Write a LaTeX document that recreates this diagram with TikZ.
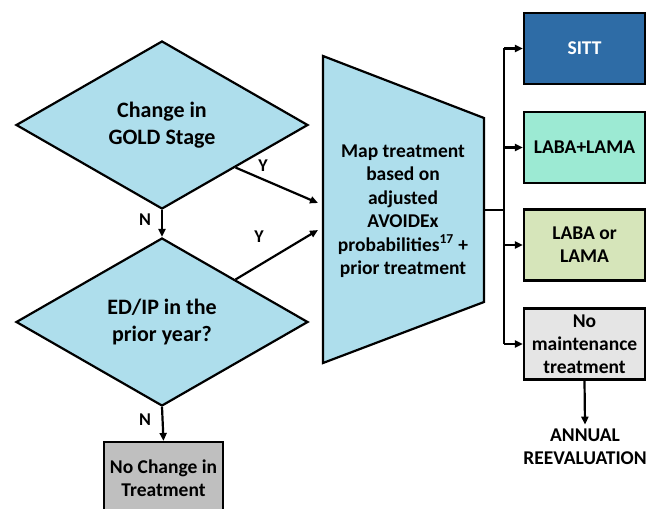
\documentclass[tikz,border=0pt]{standalone}
\usepackage{fontspec}
\setmainfont{Carlito}
\usetikzlibrary{shapes.geometric, arrows.meta, calc}

\definecolor{paleblue}{RGB}{174,222,236}
\definecolor{sittblue}{RGB}{46,108,166}
\definecolor{dualgreen}{RGB}{156,234,211}
\definecolor{monogreen}{RGB}{214,229,186}
\definecolor{nomaintgrey}{RGB}{229,229,229}
\definecolor{nochangegrey}{RGB}{191,191,191}

\begin{document}
\begin{tikzpicture}[%
        x = 1pt, y = -1pt,
        line width = 2.2pt,
        decision/.style = {%
            diamond, draw, fill = paleblue,
            minimum width = 292pt, minimum height = 168pt, inner sep = 0pt,
            align = center, font = \fontsize{22}{27}\selectfont\bfseries
        },
        choice/.style = {%
            rectangle, draw, minimum width = 121pt, minimum height = 71pt,
            inner sep = 2pt, align = center,
            font = \fontsize{19.5}{23}\selectfont\bfseries
        },
        answer/.style = {font = \fontsize{18}{20}\selectfont\bfseries},
        ->-/.style = {-{Triangle[length = 8pt, width = 7pt]}}
    ]

        \clip (0, 0) rectangle (647, 508);

        % The two questions on the left.
        \node[decision] (gold) at (162, 125) {Change in\\GOLD Stage};
        \node[decision] (edip) at (162, 322) {ED/IP in the\\prior year?};

        % The corners of the mapping trapezium.
        \coordinate (tl) at (323, 56);
        \coordinate (tr) at (484, 118);
        \coordinate (br) at (484, 302);
        \coordinate (bl) at (323, 363);
        \draw[fill = paleblue] (tl) -- (tr) -- (br) -- (bl) -- cycle;
        \node[align = center, font = \fontsize{19.5}{23.5}\selectfont\bfseries]
            (map) at (403, 211)
            {Map treatment\\based on\\adjusted\\AVOIDEx\\probabilities\textsuperscript{17} +\\prior treatment};

        % Where the Y arrows end.
        \coordinate (in1) at (318, 203);
        \coordinate (in2) at (318, 230);

        % Treatment boxes on the right.
        \node[choice, fill = sittblue, text = white] (sitt) at (584.5, 48.5) {SITT};
        \node[choice, fill = dualgreen] (dual) at (584.5, 147.5) {LABA+LAMA};
        \node[choice, fill = monogreen] (mono) at (584.5, 245) {LABA or\\LAMA};
        \node[choice, fill = nomaintgrey] (nomaint) at (584.5, 344) {No\\maintenance\\treatment};
        \node[choice, fill = nochangegrey, minimum width = 119pt, minimum height = 72pt]
            (nochange) at (163.5, 478) {No Change in\\Treatment};
        \node[align = center, font = \fontsize{19.5}{23}\selectfont\bfseries]
            (annual) at (585, 447) {ANNUAL\\REEVALUATION};

        % Yes and no arrows.
        \draw[->-] (gold.south east) -- (in1);
        \draw[->-] (edip.north east) -- (in2);
        \draw[->-] (gold.south) -- (edip.north);
        \draw[->-] (edip.south) -- (nochange.north);

        % The bus out of the trapezium.
        \coordinate (out) at ($(tr)!0.5!(br)$);
        \coordinate (bus) at (504, 210);
        \coordinate (bustop) at (504, 48.5);
        \coordinate (busbot) at (504, 344);
        \draw (out) -- (bus);
        \draw (bustop) -- (busbot);
        \foreach\x in {sitt, dual, mono, nomaint}{%
            \draw[->-] (bus |- \x.west) to (\x.west);
        }
        \draw[->-] (nomaint.south) to (annual.north);

        % Label the arrows.
        \node[answer] (y1) at (263, 166) {Y};
        \node[answer] (y2) at (259, 237) {Y};
        \node[answer] (n1) at (145, 220) {N};
        \node[answer] (n2) at (145, 420) {N};
    \end{tikzpicture}
\end{document}
